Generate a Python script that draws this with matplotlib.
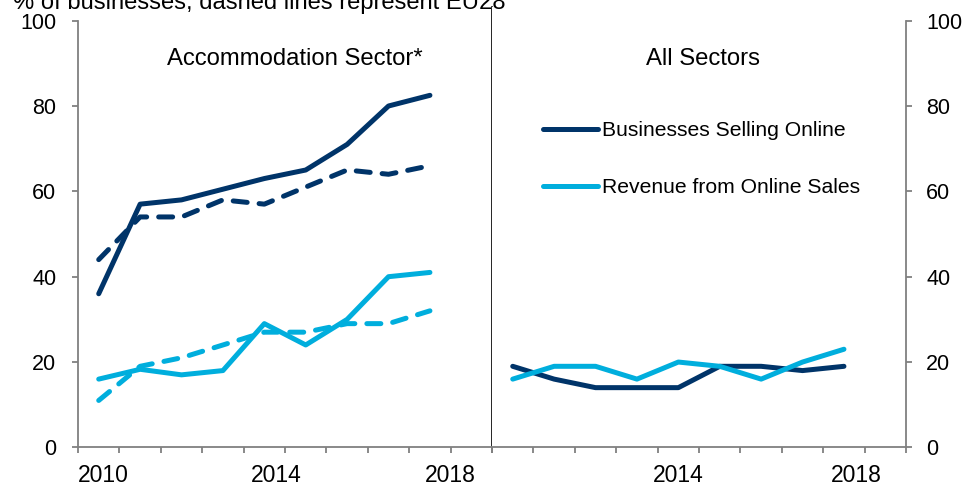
import numpy as np
import matplotlib
matplotlib.use("Agg")
from matplotlib import pyplot as plt

plt.rcParams['font.family'] = ['Liberation Sans', 'DejaVu Sans']

# data, % of businesses
years = [2010, 2011, 2012, 2013, 2014, 2015, 2016, 2017, 2018]
accom_selling_ie = [36, 57, 58, 60.5, 63, 65, 71, 80, 82.5]
accom_selling_eu = [44, 54, 54, 58, 57, 61, 65, 64, 66]
accom_revenue_ie = [16, 18.3, 17, 18, 29, 24, 30, 40, 41]
accom_revenue_eu = [11, 19, 21, 24, 27, 27, 29, 29, 32]
all_selling_ie = [19, 16, 14, 14, 14, 19, 19, 18, 19]
all_revenue_ie = [16, 19, 19, 16, 20, 19, 16, 20, 23]

left_labels = ['2010', '2014', '2018']
left_label_pos = [2010.1, 2014.3, 2018.5]
right_labels = ['2014', '2018']
right_label_pos = [2014.0, 2018.3]
yticks = [0, 20, 40, 60, 80, 100]

dark = '#003469'
light = '#00AEDD'
grey = '#808080'
lw = 3.6
dash = (2.8, 2.4)

fig = plt.figure(figsize=(9.68, 4.82), dpi=100)
ax1 = fig.add_axes([0.0806, 0.0718, 0.4277, 0.9137])
ax2 = fig.add_axes([0.5083, 0.0718, 0.4277, 0.9137])


def style_axis(ax):
    ax.set_xlim(2009.5, 2019.5)
    ax.set_ylim(0, 103.2)
    ax.spines['top'].set_visible(False)
    ax.spines['bottom'].set_color(grey)
    ax.spines['bottom'].set_linewidth(1.3)
    ax.xaxis.remove_overlapping_locs = False
    ax.set_xticks(np.arange(2009.5, 2020, 1.0))
    ax.set_xticklabels([])
    ax.tick_params(axis='x', which='major', direction='out', length=4.5,
                   width=1.3, color=grey)
    ax.tick_params(axis='x', which='minor', length=0, labelsize=16.5, pad=12)
    ax.set_yticks(yticks)


style_axis(ax1)
style_axis(ax2)

# left panel: accommodation sector
ax1.spines['left'].set_color(grey)
ax1.spines['left'].set_linewidth(1.3)
ax1.spines['left'].set_bounds(0, 100)
ax1.spines['right'].set_color('black')
ax1.spines['right'].set_linewidth(1.2)
ax1.tick_params(axis='y', direction='out', length=4.5, width=1.3,
                color=grey, labelsize=15.5, pad=11)
ax1.set_xticks(left_label_pos, minor=True)
ax1.set_xticklabels(left_labels, minor=True)

ax1.plot(years, accom_selling_ie, color=dark, lw=lw, solid_capstyle='round',
         solid_joinstyle='round')
ax1.plot(years, accom_selling_eu, color=dark, lw=lw, dashes=dash,
         dash_capstyle='round', dash_joinstyle='round')
ax1.plot(years, accom_revenue_ie, color=light, lw=lw, solid_capstyle='round',
         solid_joinstyle='round')
ax1.plot(years, accom_revenue_eu, color=light, lw=lw, dashes=dash,
         dash_capstyle='round', dash_joinstyle='round')
ax1.text(0.523, 0.882, 'Accommodation Sector*', transform=ax1.transAxes,
         ha='center', va='center', fontsize=17.2)

# right panel: all sectors
ax2.spines['left'].set_visible(False)
ax2.spines['right'].set_color(grey)
ax2.spines['right'].set_linewidth(1.3)
ax2.spines['right'].set_bounds(0, 100)
ax2.yaxis.tick_right()
ax2.tick_params(axis='y', direction='out', length=4.5, width=1.3,
                color=grey, labelsize=15.5, pad=10)
ax2.set_xticks(right_label_pos, minor=True)
ax2.set_xticklabels(right_labels, minor=True)

ax2.plot(years, all_selling_ie, color=dark, lw=lw, solid_capstyle='round',
         solid_joinstyle='round', label='Businesses Selling Online')
ax2.plot(years, all_revenue_ie, color=light, lw=lw, solid_capstyle='round',
         solid_joinstyle='round', label='Revenue from Online Sales')
ax2.text(0.510, 0.882, 'All Sectors', transform=ax2.transAxes,
         ha='center', va='center', fontsize=17.2)

ax2.legend(loc='upper left', bbox_to_anchor=(0.123, 0.74), frameon=False,
           fontsize=15.2, handlelength=2.6, handletextpad=0.22,
           labelspacing=1.8, borderaxespad=0, borderpad=0)

fig.text(13 / 968, 1 - 8.5 / 482, '% of businesses, dashed lines represent EU28',
         ha='left', va='baseline', fontsize=17.1)

fig.savefig('out.png', dpi=100)
